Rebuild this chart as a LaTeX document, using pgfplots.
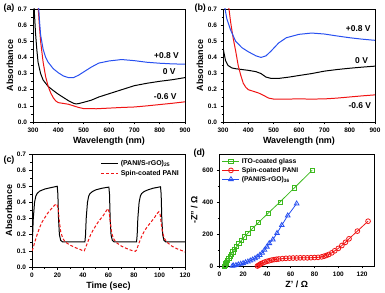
\documentclass[border=0pt]{standalone}
\usepackage{fontspec}
\setmainfont{Liberation Sans}
\usepackage{pgfplots}
\pgfplotsset{compat=1.18}
\definecolor{cblue}{RGB}{40,80,240}
\definecolor{cred}{RGB}{240,20,20}
\definecolor{cgreen}{RGB}{60,185,30}
\tikzset{ann/.style={font=\bfseries\fontsize{8.5}{10}\selectfont}}
\pgfplotsset{
  myax/.style={
    scale only axis,
    axis line style={line width=0.8pt},
    tick align=outside,
    xtick pos=left, ytick pos=left,
    major tick length=2.5bp, minor tick length=1.5bp,
    every tick/.style={line width=0.6pt, black},
    ticklabel style={font=\bfseries\fontsize{6.5}{7}\selectfont},
    label style={font=\bfseries\fontsize{9}{10}\selectfont},
    /pgf/number format/assume math mode=true,
    xlabel style={yshift=2bp},
    ylabel style={yshift=-2bp},
  },
  absax/.style={myax,
    width=152bp, height=113bp,
    xmin=300, xmax=900, ymin=0, ymax=0.7,
    xtick={300,400,...,900}, ytick={0,0.1,...,0.7},
    minor x tick num=1, minor y tick num=1,
    yticklabel style={/pgf/number format/.cd, fixed, fixed zerofill, precision=1},
    xlabel={Wavelength (nm)}, ylabel={Absorbance},
  },
  ln/.style={line width=1pt, mark=none},
}
\begin{document}
\begin{tikzpicture}
\useasboundingbox (0,0) rectangle (385bp,293bp);
% (a)
\begin{axis}[absax, at={(33bp,171bp)}, anchor=south west]
\addplot[ln, black] coordinates {(304,0.72)(310,0.55)(315,0.45)(320,0.37)(330,0.3)(340,0.26)(350,0.24)(360,0.22)(380,0.195)(400,0.172)(420,0.152)(440,0.132)(460,0.116)(470,0.112)(480,0.114)(500,0.122)(530,0.135)(560,0.155)(600,0.175)(650,0.2)(700,0.225)(750,0.24)(800,0.252)(850,0.262)(900,0.275)};
\addplot[ln, cred] coordinates {(320,0.72)(325,0.6)(330,0.5)(340,0.37)(350,0.28)(360,0.22)(370,0.18)(380,0.15)(390,0.13)(400,0.12)(420,0.115)(440,0.11)(460,0.1)(480,0.09)(500,0.083)(550,0.082)(600,0.086)(650,0.09)(700,0.093)(750,0.1)(800,0.108)(850,0.116)(900,0.125)};
\addplot[ln, cblue] coordinates {(322,0.72)(326,0.62)(330,0.54)(340,0.45)(350,0.4)(360,0.37)(380,0.33)(400,0.305)(420,0.285)(440,0.275)(460,0.275)(480,0.29)(500,0.31)(530,0.34)(560,0.365)(600,0.378)(650,0.387)(700,0.38)(750,0.37)(800,0.364)(850,0.36)(900,0.358)};
\node[ann] at (axis cs:827,0.414) {+0.8 V};
\node[ann] at (axis cs:838,0.31) {0 V};
\node[ann] at (axis cs:822,0.155) {-0.6 V};
\end{axis}
% (b)
\begin{axis}[absax, at={(223bp,171bp)}, anchor=south west]
\addplot[ln, black] coordinates {(300,0.46)(305,0.42)(310,0.38)(320,0.35)(335,0.335)(350,0.33)(375,0.325)(400,0.32)(430,0.312)(450,0.3)(470,0.278)(490,0.27)(520,0.27)(560,0.278)(600,0.288)(650,0.3)(700,0.315)(750,0.325)(800,0.333)(850,0.34)(900,0.346)};
\addplot[ln, cred] coordinates {(322,0.72)(330,0.62)(340,0.52)(350,0.44)(360,0.35)(370,0.29)(380,0.24)(390,0.215)(400,0.2)(420,0.19)(440,0.18)(460,0.165)(480,0.148)(500,0.142)(550,0.142)(600,0.143)(650,0.142)(700,0.143)(750,0.148)(800,0.155)(850,0.162)(900,0.168)};
\addplot[ln, cblue] coordinates {(306,0.72)(315,0.64)(330,0.57)(350,0.5)(375,0.46)(400,0.435)(430,0.41)(450,0.4)(470,0.41)(490,0.44)(520,0.49)(550,0.522)(600,0.543)(650,0.551)(700,0.545)(750,0.533)(800,0.522)(850,0.513)(900,0.506)};
\node[ann] at (axis cs:834,0.58) {+0.8 V};
\node[ann] at (axis cs:847,0.383) {0 V};
\node[ann] at (axis cs:840,0.104) {-0.6 V};
\end{axis}
% (c)
\begin{axis}[myax, at={(32bp,26bp)}, anchor=south west,
  width=153bp, height=113bp,
  xmin=0, xmax=120, ymin=0, ymax=0.7,
  xtick={0,20,...,120}, ytick={0,0.1,...,0.7},
  minor x tick num=1, minor y tick num=1,
  yticklabel style={/pgf/number format/.cd, fixed, fixed zerofill, precision=1},
  xlabel={Time (sec)}, ylabel={Absorbance},
  legend style={draw=none, fill=none, at={(0.98,0.97)}, anchor=north east,
    font=\bfseries\fontsize{7}{8}\selectfont, row sep=-1pt, inner sep=1pt},
  legend cell align=left,
]
\addplot[ln, black] coordinates {(0,0.16)(0.5,0.2)(1,0.3)(2,0.4)(3,0.44)(4,0.455)(6,0.47)(10,0.483)(15,0.492)(19.8,0.5)(20.3,0.45)(20.8,0.3)(21.5,0.2)(22.5,0.165)(24,0.155)(41.5,0.155)(42,0.2)(42.5,0.3)(43.5,0.4)(44.5,0.44)(45.5,0.455)(47.5,0.468)(50,0.478)(55,0.488)(60.3,0.495)(60.8,0.45)(61.3,0.3)(62,0.2)(63,0.165)(64.5,0.155)(82,0.155)(82.5,0.2)(83,0.3)(84,0.4)(85,0.44)(86,0.455)(88,0.468)(91,0.478)(95,0.488)(100.8,0.497)(101.3,0.45)(101.8,0.3)(102.5,0.2)(103.5,0.165)(105,0.155)(120,0.155)};
\addlegendentry{(PANI/S-rGO)\textsubscript{25}}
\addplot[ln, cred, dash pattern=on 3pt off 2pt] coordinates {(0,0.1)(1,0.12)(2,0.15)(4,0.2)(6,0.245)(8,0.28)(10,0.305)(12,0.33)(14,0.35)(16,0.368)(18,0.385)(19.5,0.39)(20.5,0.36)(21.5,0.28)(22.5,0.22)(24,0.18)(26,0.155)(30,0.135)(34,0.12)(38,0.108)(40,0.1)(41,0.1)(42,0.12)(44,0.16)(46,0.2)(48,0.23)(50,0.255)(52,0.28)(54,0.3)(56,0.32)(58,0.345)(59.5,0.362)(60.5,0.34)(61.5,0.27)(62.5,0.21)(64,0.175)(66,0.152)(70,0.13)(74,0.115)(78,0.103)(81,0.097)(82,0.105)(84,0.15)(86,0.19)(88,0.22)(90,0.245)(92,0.265)(94,0.285)(96,0.305)(98,0.33)(99.5,0.342)(100.5,0.325)(101.5,0.26)(102.5,0.21)(104,0.175)(106,0.152)(110,0.128)(114,0.112)(118,0.1)(120,0.093)};
\addlegendentry{Spin-coated PANI}
\end{axis}
% (d)
\begin{axis}[myax, at={(219.3bp,27bp)}, anchor=south west,
  width=154.7bp, height=112bp,
  xmin=0, xmax=130, ymin=0, ymax=700,
  xtick={0,20,...,120}, ytick={0,200,400,600},
  minor x tick num=1, minor y tick num=1,
  clip=false,
  xlabel={Z' / Ω}, ylabel={-Z'' / Ω},
  legend style={draw=none, fill=none, at={(0.01,0.99)}, anchor=north west,
    font=\bfseries\fontsize{6.8}{7.5}\selectfont, row sep=-1.5pt, inner sep=1pt},
  legend cell align=left,
]
\addplot[cgreen, line width=0.8pt, mark=square, mark size=2.1pt, mark options={line width=0.8pt}] coordinates {(4.5,0)(5,6)(5.5,14)(6.2,24)(7,35)(8,48)(9,60)(10.2,74)(11.5,88)(13,104)(14.7,120)(16.5,140)(18.5,160)(21,182)(24,205)(28,236)(33,272)(41,330)(51,400)(63,488)(78,598)};
\addlegendentry{ITO-coated glass}
\addplot[cred, line width=0.8pt, mark=o, mark size=2.4pt, mark options={line width=0.8pt}] coordinates {(32,0)(33,4)(34,9)(35,14)(36.5,19)(38,24)(40,29)(42,33)(44,37)(46,40)(48,42)(50,44)(53,46)(56,48)(59,49)(62,50)(65,50)(68,51)(71,51)(74,51)(77,52)(80,53)(83,54)(86,57)(88,61)(90,66)(92,72)(94.5,82)(97,95)(100,110)(103,128)(106,148)(109,170)(116,218)(125,280)};
\addlegendentry{Spin-coated PANI}
\addplot[cblue, line width=0.8pt, mark=triangle, mark size=2.7pt, mark options={line width=0.8pt}] coordinates {(11,0)(12,2)(14,5)(16,9)(18,13)(20,17)(22,22)(24,27)(26,33)(28,40)(30,48)(32,57)(34,68)(36,82)(38,100)(40,120)(42,142)(45,165)(48.5,205)(52.5,255)(57.5,315)(65,390)};
\addlegendentry{(PANI/S-rGO)\textsubscript{36}}
\end{axis}
% panel letters
\node[font=\bfseries\fontsize{9}{10}\selectfont, anchor=west] at (0bp,285bp) {(a)};
\node[font=\bfseries\fontsize{9}{10}\selectfont, anchor=west] at (191bp,285bp) {(b)};
\node[font=\bfseries\fontsize{9}{10}\selectfont, anchor=west] at (0bp,133bp) {(c)};
\node[font=\bfseries\fontsize{9}{10}\selectfont, anchor=west] at (190bp,140bp) {(d)};
\end{tikzpicture}
\end{document}
